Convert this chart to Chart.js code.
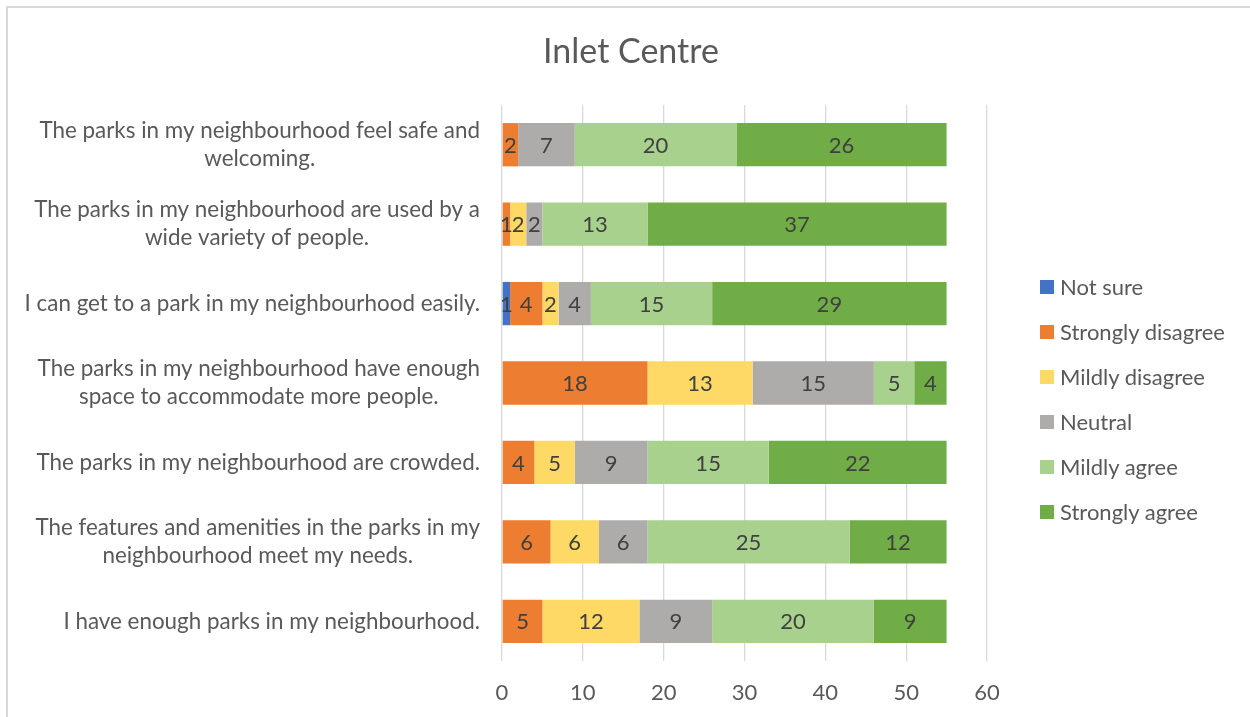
<!DOCTYPE html>
<html>
<head>
<meta charset="utf-8">
<script src="https://cdn.jsdelivr.net/npm/chart.js@4/dist/chart.umd.min.js"></script>
<style>
  body { margin: 0; background: #fff; font-family: Lato, sans-serif; }
  #wrap { position: relative; width: 1250px; height: 717px; overflow: hidden; }
  #frame { position: absolute; left: 6px; top: 6px; width: 1300px; height: 800px;
           border-left: 2px solid #d9d9d9; border-top: 2px solid #d9d9d9; }
  #title { position: absolute; left: 0; width: 1262px; top: 30px; text-align: center;
           font-size: 34px; line-height: 40px; color: #595959; }
  #legend { position: absolute; left: 1040px; top: 264px; }
  .item { display: flex; align-items: center; height: 45px; font-size: 22px; color: #595959; }
  .swatch { width: 14px; height: 14px; margin-right: 6px; }
  canvas { position: absolute; left: 0; top: 0; }
</style>
</head>
<body>
<div id="wrap">
  <div id="frame"></div>
  <canvas id="chart" width="1250" height="717"></canvas>
  <div id="title">Inlet Centre</div>
  <div id="legend"></div>
</div>
<script>
// categories, top to bottom (already wrapped the way the picture shows them)
const categories = [
  ['The parks in my neighbourhood feel safe and', 'welcoming.'],
  ['The parks in my neighbourhood are used by a', 'wide variety of people.'],
  ['I can get to a park in my neighbourhood easily.'],
  ['The parks in my neighbourhood have enough', 'space to accommodate more people.'],
  ['The parks in my neighbourhood are crowded.'],
  ['The features and amenities in the parks in my', 'neighbourhood meet my needs.'],
  ['I have enough parks in my neighbourhood.']
];

const seriesNames = ['Not sure', 'Strongly disagree', 'Mildly disagree', 'Neutral', 'Mildly agree', 'Strongly agree'];
const seriesColors = ['#4472C4', '#ED7D31', '#FFD966', '#AEABAB', '#A9D18E', '#70AD47'];

const notSure          = [0, 0, 1, 0, 0, 0, 0];
const stronglyDisagree = [2, 1, 4, 18, 4, 6, 5];
const mildlyDisagree   = [0, 2, 2, 13, 5, 6, 12];
const neutral          = [7, 2, 4, 15, 9, 6, 9];
const mildlyAgree      = [20, 13, 15, 5, 15, 25, 20];
const stronglyAgree    = [26, 37, 29, 4, 22, 12, 9];

const seriesValues = [notSure, stronglyDisagree, mildlyDisagree, neutral, mildlyAgree, stronglyAgree];

const xTicks = [0, 10, 20, 30, 40, 50, 60];

const FONT = 'Lato';

// html legend
var legend = document.getElementById('legend');
seriesNames.forEach(function (name, i) {
    var item = document.createElement('div');
    item.className = 'item';
    item.innerHTML = '<span class="swatch" style="background:' + seriesColors[i] + '"></span>' + name;
    legend.appendChild(item);
});

// numbers in the middle of every segment
var valueLabels = {
    id: 'valueLabels',
    afterDatasetsDraw: function (chart) {
        var ctx = chart.ctx;
        ctx.save();
        ctx.font = '22px ' + FONT;
        ctx.fillStyle = '#404040';
        ctx.textAlign = 'center';
        ctx.textBaseline = 'middle';
        chart.data.datasets.forEach(function (ds, di) {
            chart.getDatasetMeta(di).data.forEach(function (bar, i) {
                var v = ds.data[i];
                if (!v) return;
                ctx.fillText(String(v), (bar.x + bar.base) / 2, bar.y + 1);
            });
        });
        ctx.restore();
    }
};

// category labels: block right aligned, lines centred inside block (like Excel)
var catLabels = {
    id: 'catLabels',
    afterDraw: function (chart) {
        var ctx = chart.ctx;
        var yScale = chart.scales.y;
        var right = chart.chartArea.left - 22;
        ctx.save();
        ctx.font = '22.4px ' + FONT;
        ctx.fillStyle = '#595959';
        ctx.textAlign = 'center';
        ctx.textBaseline = 'middle';
        categories.forEach(function (lines, i) {
            var cy = yScale.getPixelForValue(i);
            var w = Math.max.apply(null, lines.map(function (l) { return ctx.measureText(l).width; }));
            var cx = right - w / 2;
            lines.forEach(function (l, j) {
                ctx.fillText(l, cx, cy + (j - (lines.length - 1) / 2) * 28);
            });
        });
        ctx.restore();
    }
};

function draw() {
    new Chart(document.getElementById('chart'), {
        type: 'bar',
        data: {
            labels: categories,
            datasets: seriesNames.map(function (name, i) {
                return {
                    label: name,
                    data: seriesValues[i],
                    backgroundColor: seriesColors[i],
                    borderWidth: 0,
                    categoryPercentage: 1,
                    barPercentage: 0.545
                };
            })
        },
        options: {
            indexAxis: 'y',
            responsive: false,
            animation: false,
            layout: { padding: { left: 502, right: 263, top: 105, bottom: 0 } },
            plugins: {
                legend: { display: false },
                title: { display: false },
                tooltip: { enabled: false }
            },
            scales: {
                x: {
                    stacked: true,
                    min: 0,
                    max: 60,
                    afterBuildTicks: function (scale) {
                        scale.ticks = xTicks.map(function (v) { return { value: v }; });
                    },
                    afterFit: function (scale) {
                        scale.height = 56;
                    },
                    grid: { color: '#d9d9d9', lineWidth: 1.3, drawTicks: false },
                    border: { display: false },
                    ticks: { padding: 19, color: '#595959', font: { family: FONT, size: 22 } }
                },
                y: {
                    stacked: true,
                    display: false
                }
            }
        },
        plugins: [valueLabels, catLabels]
    });
}

if (document.fonts && document.fonts.load) {
    document.fonts.load('20px ' + FONT).then(draw, draw);
} else {
    draw();
}
</script>
</body>
</html>
